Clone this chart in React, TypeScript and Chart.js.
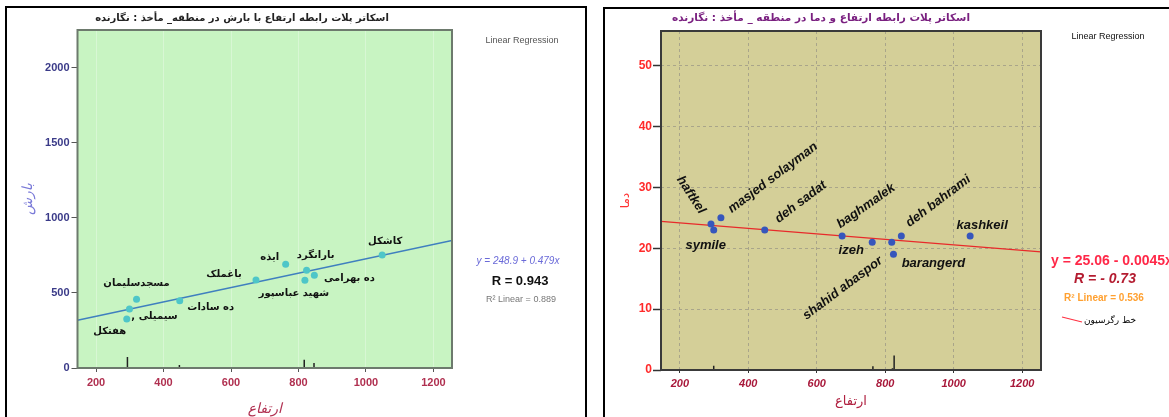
import React, { useEffect, useRef } from "react";
import { Chart, registerables } from "chart.js";
Chart.register(...registerables);

// ---------------- data ----------------
const STATION_NAMES_FA = ["هفتکل", "سیمیلی ,", "مسجدسلیمان", "ده سادات", "باغملک", "ایذه", "شهید عباسپور", "بارانگرد", "ده بهرامی", "کاشکل"];
const STATION_NAMES_EN = ["haftkel", "symile", "masjed solayman", "deh sadat", "baghmalek", "izeh", "shahid abaspor", "barangerd", "deh bahrami", "kashkeil"];
const ALTITUDE = [291, 299, 320, 448, 674, 762, 819, 824, 847, 1048];
const RAINFALL = [327, 393, 459, 448, 587, 691, 585, 651, 618, 753];
const TEMPERATURE = [24, 23, 25, 23, 22, 21, 21, 19, 22, 22];
const ALTITUDE_TICKS = [200, 400, 600, 800, 1000, 1200];
const RAIN_TICKS = [0, 500, 1000, 1500, 2000];
const TEMP_TICKS = [0, 10, 20, 30, 40, 50];
const ALTITUDE_RANGE = [145, 1255];
const RAIN_RANGE = [0, 2253];
const TEMP_RANGE = [0, 55.7];
const RAIN_FIT = { intercept: 248.9, slope: 0.479 };
const TEMP_FIT = { intercept: 25.06, slope: -0.0045 };
const RAIN_SPIKE_X = [293, 447, 817, 846];
const RAIN_SPIKE_H = [73, 20, 55, 33];
const TEMP_SPIKE_X = [299, 764, 821, 826];
const TEMP_SPIKE_H = [0.7, 0.6, 0.3, 2.4];

const RAIN_TITLE = "اسکاتر پلات رابطه ارتفاع با بارش در منطقه_ مأخذ : نگارنده";
const TEMP_TITLE = "اسکاتر پلات رابطه ارتفاع و دما در منطقه _ مأخذ : نگارنده";
const RAIN_Y_TITLE = "بارش";
const TEMP_Y_TITLE = "دما";
const X_TITLE = "ارتفاع";
const RAIN_EQ = "y = 248.9 + 0.479x";
const RAIN_R = "R = 0.943";
const RAIN_R2 = "R² Linear = 0.889";
const TEMP_EQ = "y = 25.06 - 0.0045x";
const TEMP_R = "R = - 0.73";
const TEMP_R2 = "R² Linear = 0.536";
const LEGEND_LABEL = "خط رگرسیون";
const METHOD_LABEL = "Linear Regression";

// ---------------- label layout (style only) ----------------
const RAIN_LABEL_LAYOUT = [
  [-17, 12], [25, 7], [0, -16], [31, 7], [-32, -6], [-16, -7], [-11, 13], [9, -15], [35, 3], [3, -14],
];
const TEMP_LABEL_LAYOUT = [
  [-20, -29, 57], [-8, 15, 0], [52, -40, -37], [36, -28, -37], [24, -30, -35], [-21, 8, 0], [-49, 46, -37], [40, 9, 0], [37, -35, -37], [12, -11, 0],
];

const FA_FONT = '"DejaVu Sans", sans-serif';
const EN_FONT = '"Liberation Sans", Arial, sans-serif';

const fitLine = (fit: { intercept: number; slope: number }) =>
  ALTITUDE_RANGE.map((x) => ({ x, y: fit.intercept + fit.slope * x }));

const spikeData = (xs: number[], hs: number[]) =>
  xs.flatMap((x, i) => [{ x, y: 0 }, { x, y: hs[i] }, { x, y: null as any }]);

function drawText(ctx: CanvasRenderingContext2D, text: string, x: number, y: number, font: string, color: string, align: CanvasTextAlign = "center", rtl = false) {
  ctx.save();
  ctx.font = font;
  ctx.fillStyle = color;
  ctx.textAlign = align;
  ctx.textBaseline = "middle";
  (ctx as any).direction = rtl ? "rtl" : "ltr";
  ctx.fillText(text, x, y);
  ctx.restore();
}

function RainChart() {
  const ref = useRef<HTMLCanvasElement>(null);
  useEffect(() => {
    const decor = {
      id: "rainDecor",
      beforeDraw(chart: any) {
        const { ctx, chartArea: a } = chart;
        ctx.save();
        ctx.fillStyle = "#c8f4c2";
        ctx.fillRect(a.left, a.top, a.right - a.left, a.bottom - a.top);
        ctx.restore();
      },
      afterDatasetsDraw(chart: any) {
        const { ctx, chartArea: a } = chart;
        ctx.save();
        ctx.strokeStyle = "#6d7a6d";
        ctx.lineWidth = 2;
        ctx.strokeRect(a.left, a.top, a.right - a.left, a.bottom - a.top);
        ctx.restore();
        const meta = chart.getDatasetMeta(0);
        meta.data.forEach((pt: any, i: number) => {
          const [dx, dy] = RAIN_LABEL_LAYOUT[i];
          drawText(ctx, STATION_NAMES_FA[i], pt.x + dx, pt.y + dy, `bold 10px ${FA_FONT}`, "#111", "center", true);
        });
      },
      afterDraw(chart: any) {
        const { ctx } = chart;
        drawText(ctx, RAIN_TITLE, 242, 18, `bold 10px ${FA_FONT}`, "#222", "center", true);
        drawText(ctx, METHOD_LABEL, 522, 41, `9px ${EN_FONT}`, "#555");
        drawText(ctx, RAIN_EQ, 518, 261, `italic 10px ${EN_FONT}`, "#6a6ad8");
        drawText(ctx, RAIN_R, 520, 281, `bold 13px ${EN_FONT}`, "#111");
        drawText(ctx, RAIN_R2, 521, 300, `9px ${EN_FONT}`, "#777");
      },
    };
    const chart = new Chart(ref.current!, {
      type: "scatter",
      data: {
        datasets: [
          {
            data: ALTITUDE.map((x, i) => ({ x, y: RAINFALL[i] })),
            backgroundColor: "#4ec6c8",
            borderColor: "#4ec6c8",
            pointRadius: 3.5,
            borderWidth: 0,
          },
          {
            data: fitLine(RAIN_FIT),
            showLine: true,
            borderColor: "#3f7fbf",
            borderWidth: 1.5,
            pointRadius: 0,
          },
          {
            data: spikeData(RAIN_SPIKE_X, RAIN_SPIKE_H),
            showLine: true,
            spanGaps: false,
            borderColor: "#222",
            borderWidth: 1.5,
            pointRadius: 0,
          },
        ],
      },
      options: {
        animation: false,
        responsive: false,
        events: [],
        layout: { padding: { left: 10, top: 30, right: 144, bottom: 0 } },
        plugins: { legend: { display: false }, tooltip: { enabled: false }, title: { display: false } },
        scales: {
          x: {
            type: "linear",
            min: ALTITUDE_RANGE[0],
            max: ALTITUDE_RANGE[1],
            afterBuildTicks: (axis: any) => { axis.ticks = ALTITUDE_TICKS.map((v) => ({ value: v })); },
            afterFit: (axis: any) => { axis.height = 62; },
            border: { display: false },
            grid: { color: "rgba(255,255,255,0.3)", lineWidth: 1, tickColor: "#555", tickLength: 4, tickWidth: 1 },
            ticks: { callback: (v: any) => String(v), color: "#b03050", font: { family: EN_FONT, size: 11, weight: "bold" }, padding: 4, maxRotation: 0 },
            title: { display: true, text: X_TITLE, color: "#b03050", font: { family: FA_FONT, size: 14, style: "italic" }, padding: { top: 0, bottom: 12 } },
          },
          y: {
            type: "linear",
            min: RAIN_RANGE[0],
            max: RAIN_RANGE[1],
            afterBuildTicks: (axis: any) => { axis.ticks = RAIN_TICKS.map((v) => ({ value: v })); },
            afterFit: (axis: any) => { axis.width = 67.5; },
            border: { display: false },
            grid: { drawOnChartArea: false, tickColor: "#555", tickLength: 6, tickWidth: 1 },
            ticks: { callback: (v: any) => String(v), color: "#3a3a88", font: { family: EN_FONT, size: 11, weight: "bold" }, padding: 2 },
            title: { display: true, text: RAIN_Y_TITLE, color: "#7a7ad8", font: { family: FA_FONT, size: 14, style: "italic" }, padding: { top: 10, bottom: 0 } },
          },
        },
      },
      plugins: [decor],
    } as any);
    return () => chart.destroy();
  }, []);
  return <canvas ref={ref} width={596} height={430} style={{ position: "absolute", left: 0, top: 0, width: 596, height: 430 }} />;
}

function TempChart() {
  const ref = useRef<HTMLCanvasElement>(null);
  useEffect(() => {
    const decor = {
      id: "tempDecor",
      beforeDraw(chart: any) {
        const { ctx, chartArea: a } = chart;
        ctx.save();
        ctx.fillStyle = "#d4cf98";
        ctx.fillRect(a.left, a.top, a.right - a.left, a.bottom - a.top);
        ctx.restore();
      },
      afterDatasetsDraw(chart: any) {
        const { ctx, chartArea: a } = chart;
        ctx.save();
        ctx.strokeStyle = "#3a3a3a";
        ctx.lineWidth = 2;
        ctx.strokeRect(a.left, a.top, a.right - a.left, a.bottom - a.top);
        ctx.restore();
        const meta = chart.getDatasetMeta(0);
        meta.data.forEach((pt: any, i: number) => {
          const [dx, dy, ang] = TEMP_LABEL_LAYOUT[i];
          ctx.save();
          ctx.translate(pt.x + dx, pt.y + dy);
          ctx.rotate((ang * Math.PI) / 180);
          drawText(ctx, STATION_NAMES_EN[i], 0, 0, `italic bold 13px ${EN_FONT}`, "#111");
          ctx.restore();
        });
      },
      afterDraw(chart: any) {
        const { ctx } = chart;
        drawText(ctx, TEMP_TITLE, 225, 18, `bold 10.5px ${FA_FONT}`, "#7a2080", "center", true);
        drawText(ctx, METHOD_LABEL, 512, 37, `9px ${EN_FONT}`, "#111");
        drawText(ctx, TEMP_EQ, 455, 261, `bold 14px ${EN_FONT}`, "#ff2848", "left");
        drawText(ctx, TEMP_R, 509, 279, `italic bold 14px ${EN_FONT}`, "#b41c30");
        drawText(ctx, TEMP_R2, 508, 298, `bold 10px ${EN_FONT}`, "#ffa030");
        ctx.save();
        ctx.strokeStyle = "#ff3040";
        ctx.lineWidth = 1.2;
        ctx.beginPath();
        ctx.moveTo(466, 317);
        ctx.lineTo(486, 322);
        ctx.stroke();
        ctx.restore();
        drawText(ctx, LEGEND_LABEL, 514, 321, `9px ${FA_FONT}`, "#000", "center", true);
      },
    };
    const chart = new Chart(ref.current!, {
      type: "scatter",
      data: {
        datasets: [
          {
            data: ALTITUDE.map((x, i) => ({ x, y: TEMPERATURE[i] })),
            backgroundColor: "#3656bc",
            borderColor: "#3656bc",
            pointRadius: 3.5,
            borderWidth: 0,
          },
          {
            data: fitLine(TEMP_FIT),
            showLine: true,
            borderColor: "#e82a2a",
            borderWidth: 1.3,
            pointRadius: 0,
          },
          {
            data: spikeData(TEMP_SPIKE_X, TEMP_SPIKE_H),
            showLine: true,
            spanGaps: false,
            borderColor: "#222",
            borderWidth: 1.5,
            pointRadius: 0,
          },
        ],
      },
      options: {
        animation: false,
        responsive: false,
        events: [],
        layout: { padding: { left: 10, top: 31, right: 128, bottom: 0 } },
        plugins: { legend: { display: false }, tooltip: { enabled: false }, title: { display: false } },
        scales: {
          x: {
            type: "linear",
            min: ALTITUDE_RANGE[0],
            max: ALTITUDE_RANGE[1],
            afterBuildTicks: (axis: any) => { axis.ticks = ALTITUDE_TICKS.map((v) => ({ value: v })); },
            afterFit: (axis: any) => { axis.height = 60; },
            border: { display: false, dash: [3, 3] },
            grid: { color: "#a9a58a", lineWidth: 1, tickColor: "#333", tickLength: 3, tickWidth: 1 },
            ticks: { callback: (v: any) => String(v), color: "#a8183a", font: { family: EN_FONT, size: 11, weight: "bold", style: "italic" }, padding: 4, maxRotation: 0 },
            title: { display: true, text: X_TITLE, color: "#b02040", font: { family: FA_FONT, size: 13 }, padding: { top: 0, bottom: 21 } },
          },
          y: {
            type: "linear",
            min: TEMP_RANGE[0],
            max: TEMP_RANGE[1],
            afterBuildTicks: (axis: any) => { axis.ticks = TEMP_TICKS.map((v) => ({ value: v })); },
            afterFit: (axis: any) => { axis.width = 55; },
            border: { display: false, dash: [3, 3] },
            grid: { color: "#a9a58a", lineWidth: 1, tickColor: "#333", tickLength: 8, tickWidth: 1.5 },
            ticks: { callback: (v: any) => String(v), color: "#ff2a2a", font: { family: EN_FONT, size: 12, weight: "bold" }, padding: 1 },
            title: { display: true, text: TEMP_Y_TITLE, color: "#ff3030", font: { family: FA_FONT, size: 12 }, padding: { top: 13, bottom: 0 } },
          },
        },
      },
      plugins: [decor],
    } as any);
    return () => chart.destroy();
  }, []);
  return <canvas ref={ref} width={573} height={430} style={{ position: "absolute", left: 596, top: 0, width: 573, height: 430 }} />;
}

export default function App() {
  return (
    <div style={{ position: "absolute", left: 0, top: 0, width: 1169, height: 417, overflow: "hidden", background: "#fff" }}>
      <div style={{ position: "absolute", left: 5, top: 6, width: 582, height: 440, border: "2px solid #000", boxSizing: "border-box" }} />
      <div style={{ position: "absolute", left: 603, top: 7, width: 600, height: 440, border: "2px solid #000", boxSizing: "border-box" }} />
      <RainChart />
      <TempChart />
    </div>
  );
}
